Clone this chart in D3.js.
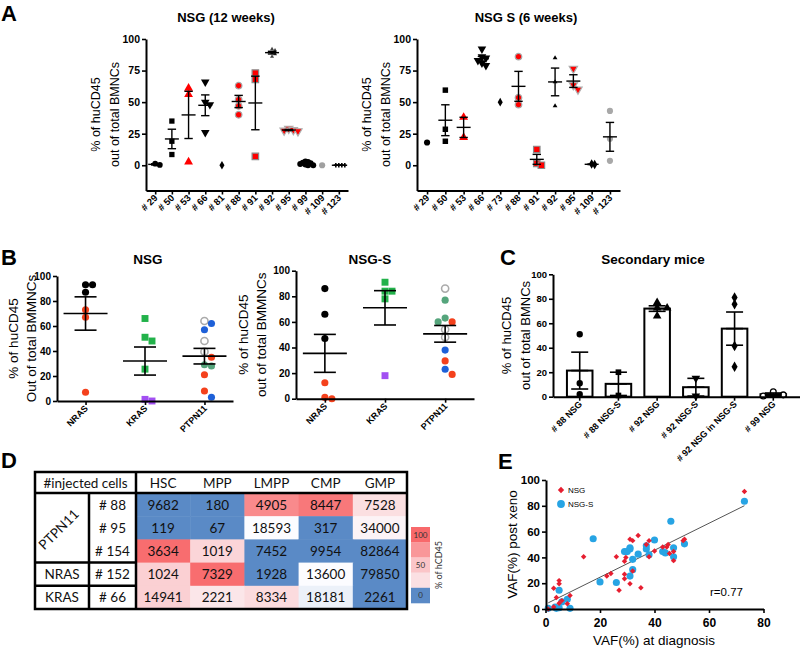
<!DOCTYPE html>
<html><head><meta charset="utf-8">
<script src="https://cdn.jsdelivr.net/npm/d3@7"></script>
<style>
body{margin:0;background:#fff;}
svg{display:block;font-family:"Liberation Sans",Arial,sans-serif;}
</style></head><body>
<svg id="fig" width="800" height="650"></svg>
<script>
// ================= DATA =================
// Panel A – NSG (12 weeks)
const aNsgCats = ["# 29","# 50","# 53","# 66","# 81","# 88","# 91","# 92","# 95","# 99","# 109","# 123"];
const aNsgValues = [
  [1.2, 0.2],
  [35, 19, 8.5],
  [61, 56, 2.6],
  [66, 50, 48, 26],
  [0],
  [63, 52, 47, 40],
  [73, 68, 7],
  [92, 91, 89, 88, 86],
  [29, 28, 27.5, 27],
  [3, 2.5, 2, 1.5, 1, 0.5, 0, 0],
  [0],
  [0, 0, 0, 0]
];
// Panel A – NSG S (6 weeks)
const aNsgsCats = ["# 29","# 50","# 53","# 66","# 73","# 88","# 91","# 92","# 95","# 109","# 123"];
const aNsgsValues = [
  [18],
  [59.5, 28.5, 19],
  [38, 22],
  [92, 86, 85, 83, 81, 79],
  [50],
  [86, 53.5, 48],
  [12.5, 1.5, 0],
  [85, 66, 47],
  [76.5, 63.5, 60],
  [1, 0.5],
  [43, 21, 3.5]
];
const aYTicks = [0, 25, 50, 75, 100];

// Panel B
const bCats = ["NRAS", "KRAS", "PTPN11"];
const bNsgValues = [
  [93, 93, 87, 73, 67, 7],
  [66, 51, 48, 25.5, 0, 1.3],
  [64, 62, 57, 48, 39.5, 35, 29, 28, 21, 8, 3]
];
const bNsgGroups = [
  ["k","k","k","r","r","r"],
  ["g","g","g","g","p","p"],
  ["o","b","b","o","o","r","t","t","r","r","b"]
];
const bNsgsValues = [
  [86, 66, 47, 12.5, 0, 1],
  [91, 84, 84, 78, 18],
  [86, 77, 63, 60, 60, 54, 48, 38, 29.5, 23, 19]
];
const bNsgsGroups = [
  ["k","k","k","r","r","r"],
  ["g","g","g","g","p"],
  ["o","t","t","r","t","o","o","b","r","b","r"]
];
const bYTicks = [0, 20, 40, 60, 80, 100];

// Panel C – Secondary mice
const cCats = ["# 88 NSG","# 88 NSG-S","# 92 NSG","# 92 NSG-S","# 92 NSG in NSG-S","# 99 NSG"];
const cValues = [
  [51, 11, 2],
  [20, 1],
  [77, 72.5, 72.5, 66],
  [15, 0.5],
  [81, 75.5, 41.5, 24.5],
  [0.5, 4, 1.5]
];
const cYTicks = [0, 20, 40, 60, 80, 100];

// Panel D – table / heatmap
const dCols = ["HSC","MPP","LMPP","CMP","GMP"];
const dRowIds = ["# 88","# 95","# 154","# 152","# 66"];
const dGenes = ["PTPN11","NRAS","KRAS"];
const dGeneSpan = [3, 1, 1];
const dCounts = [
  [9682, 180, 4905, 8447, 7528],
  [119, 67, 18593, 317, 34000],
  [3634, 1019, 7452, 9954, 82864],
  [1024, 7329, 1928, 13600, 79850],
  [14941, 2221, 8334, 18181, 2261]
];
const dPct = [
  [0, 0, 82, 92, 36],
  [0, 0, 20, 0, 25],
  [98, 41, 0, 0, 0],
  [44, 98, 0, 20, 0],
  [44, 32, 38, 18, 0]
];
const dLegendSteps = [100, 75, 50, 35, 0];
const dLegendLabels = ["100", "", "50", "", "0"];

// Panel E – VAF scatter
const eNsg = [[73,91],[51,54],[50.5,53],[38,53],[34,57],[31,54],[32,53],[37,50],[26,40.5],[29.5,40],[29,37],
  [38,40.5],[40,45],[43,48],[44.5,48],[45,50],[45.5,43],[47,44.5],[47,37.5],[14,40.5],[22.5,25.5],[24,27.5],
  [29,27],[29,23.5],[31,19.5],[27,14.5],[35,16.5],[32,29.5],[3,16],[5,22],[5,19.5],[4,9],[6,6.5],[9,10.5],
  [8,4],[3,1.5],[5,4.5],[1,0]];
const eNsgs = [[73,83.5],[46,68],[17.5,54.5],[40,53.5],[31,47.5],[31,46.5],[37,49],[37,46.5],[29,44.5],[30,44.5],
  [32,38.5],[34,42.5],[38,42],[43,44.5],[44,43.5],[47,47.5],[47,40.5],[51,50.5],[32,30.5],[31,25.5],[20,21],
  [26,20.5],[5,14.5],[8,7.5],[6,5.5],[1,0.5],[3.5,1.5],[5,1],[9,0.5],[4,0.5]];
const eXTicks = [0, 20, 40, 60, 80];
const eYTicks = [0, 20, 40, 60, 80, 100];
const eCorr = "r=0.77";

// ================= STYLES =================
const FONT = "'Liberation Sans', Arial, sans-serif";
const aNsgStyle = {
  sym:  ["circle","square","triangle","triangleDown","diamond","circle","square","triangle","triangleDown","circle","circle","cross"],
  fill: ["#000","#000","#ff0000","#000","#000","#ff0000","#ff0000","#444","#ff0000","#000","#a0a0a0","#000"],
  stroke:["none","none","none","none","none","#a8a8a8","#8c8c8c","none","#b0b0b0","none","none","none"],
  size: [26,28,34,32,22,34,42,7,30,28,30,12],
  gap:  [4.6,4.6,4.6,4.6,4.6,4.6,4.6,3,4.6,2.6,4.6,3]
};
const aNsgsStyle = {
  sym:  ["circle","square","triangle","triangleDown","diamond","circle","square","triangle","triangleDown","diamond","circle"],
  fill: ["#000","#000","#ff0000","#000","#000","#ff0000","#ff0000","#000","#ff0000","#000","#a8a8a8"],
  stroke:["none","none","none","none","none","#a8a8a8","#8c8c8c","none","#b0b0b0","none","none"],
  size: [30,30,34,32,22,34,42,10,30,26,30],
  gap:  [4.6,4.6,4.6,4,4.6,4.6,4.6,4.6,4.6,3,4.6]
};
const bColor = {k:"#000", r:"#f4411c", g:"#22b24a", p:"#a24ff2", b:"#1e60d8", t:"#55a57c", o:"#fff"};
const cSym = ["circle","square","triangle","triangleDown","diamond","open"];

// ================= HELPERS =================
const svg = d3.select("#fig");
const symTypes = {circle:d3.symbolCircle, open:d3.symbolCircle, square:d3.symbolSquare, triangle:d3.symbolTriangle,
  triangleDown:d3.symbolTriangle, diamond:d3.symbolDiamond, cross:d3.symbolCross};

function styleAxis(ax, fs) {
  ax.select(".domain").attr("stroke", "#000").attr("stroke-width", 2);
  ax.selectAll(".tick line").attr("stroke", "#000").attr("stroke-width", 1.6);
  ax.selectAll(".tick text").attr("fill", "#000").attr("font-weight", "bold")
    .attr("font-size", fs).attr("font-family", FONT);
}
function yAxis(g, y, ticks, x, fs, ts, tp) {
  const ax = g.append("g").attr("transform", `translate(${x},0)`)
    .call(d3.axisLeft(y).tickValues(ticks).tickSize(ts || 4).tickSizeOuter(0).tickPadding(tp || 2));
  styleAxis(ax, fs);
}
function xAxisCat(g, x, yPos) {
  const ax = g.append("g").attr("transform", `translate(0,${yPos})`)
    .call(d3.axisBottom(x).tickSize(4).tickSizeOuter(0).tickFormat(""));
  styleAxis(ax, 10);
}
function rotLabels(g, x, cats, yPos, fs, dx, dy) {
  const cx = d => x(d) + (x.bandwidth ? x.bandwidth() / 2 : 0);
  g.selectAll(null).data(cats).join("text")
    .attr("transform", d => `translate(${cx(d) + dx},${yPos + dy}) rotate(-45)`)
    .attr("text-anchor", "end").attr("font-weight", "bold").attr("font-size", fs)
    .attr("font-family", FONT).attr("fill", "#000").text(d => d);
}
function textAt(g, x, y, str, o) {
  o = o || {};
  const t = g.append("text").attr("x", x).attr("y", y).text(str)
    .attr("font-size", o.fs || 12).attr("font-family", o.ff || FONT)
    .attr("font-weight", o.fw || "normal").attr("text-anchor", o.anchor || "middle")
    .attr("fill", o.fill || "#000");
  if (o.rot) t.attr("transform", `rotate(${o.rot},${x},${y})`);
  return t;
}
function swarm(values, y, diam, step) {
  const order = values.map((v, i) => i).sort((a, b) => values[b] - values[a]);
  const placed = [], off = new Array(values.length).fill(0);
  order.forEach(i => {
    const py = y(values[i]);
    for (let k = 0; k < 40; k++) {
      const o = k === 0 ? 0 : (k % 2 ? 1 : -1) * Math.ceil(k / 2) * step;
      if (placed.every(p => Math.hypot(p.x - o, p.y - py) >= diam)) { off[i] = o; placed.push({x: o, y: py}); break; }
    }
  });
  return off;
}
function drawPoints(g, cx, y, vals, st, diam, step) {
  const offs = swarm(vals, y, diam, step);
  vals.forEach((v, i) => {
    const s = st(i);
    g.append("path").attr("d", d3.symbol().type(symTypes[s.sym]).size(s.size)())
      .attr("transform", `translate(${cx + offs[i]},${y(v)})${s.sym === "triangleDown" ? " rotate(180)" : ""}`)
      .attr("fill", s.fill).attr("stroke", s.stroke || "none").attr("stroke-width", s.sw || 1);
  });
}
function drawStats(g, cx, y, vals, mh, ch, sw) {
  const n = vals.length;
  if (n < 2) return;
  const m = d3.mean(vals), s = d3.deviation(vals) / Math.sqrt(n);
  const gg = g.append("g").attr("stroke", "#000").attr("stroke-width", sw || 1.5);
  gg.append("line").attr("x1", cx - mh).attr("x2", cx + mh).attr("y1", y(m)).attr("y2", y(m));
  gg.append("line").attr("x1", cx).attr("x2", cx).attr("y1", y(m - s)).attr("y2", y(m + s));
  [m - s, m + s].forEach(v => gg.append("line").attr("x1", cx - ch).attr("x2", cx + ch).attr("y1", y(v)).attr("y2", y(v)));
}
function panelLetter(x, y, L) { textAt(svg, x, y, L, {fs: 22, fw: "bold", anchor: "start"}); }

// ================= PANEL A =================
function panelA(cats, vals, style, x0, x1, title, tx) {
  const g = svg.append("g");
  const y = d3.scaleLinear().domain([-20, 100]).range([190.5, 39]);
  const x = d3.scalePoint().domain(cats).range([x0, x1]).padding(0.55);
  cats.forEach((c, i) => {
    drawPoints(g, x(c), y, vals[i], j => ({sym: style.sym[i], fill: style.fill[i], stroke: style.stroke[i], size: style.size[i], sw: 1.2}),
      style.gap[i], style.gap[i]);
  });
  cats.forEach((c, i) => drawStats(g, x(c), y, vals[i], 7, 4.2, 1.4));
  yAxis(g, y, aYTicks, x0, 10.5, 4, 2);
  xAxisCat(g, x, 190.5);
  rotLabels(g, x, cats, 190.5, 9.5, 3, 8);
  textAt(g, tx, 22, title, {fs: 13, fw: "bold"});
  textAt(g, x0 - 46, 114.5, "% of huCD45", {fs: 12.5, rot: -90});
  textAt(g, x0 - 27, 114.5, "out of total BMNCs", {fs: 12.5, rot: -90});
}
panelA(aNsgCats, aNsgValues, aNsgStyle, 146, 348, "NSG (12 weeks)", 226);
panelA(aNsgsCats, aNsgsValues, aNsgsStyle, 417, 620, "NSG S (6 weeks)", 526);
panelLetter(1, 21, "A");

// ================= PANEL B =================
function panelB(vals, groups, x0, x1, yb, yt, title, tx, lab2, l1, l2, mh, ch) {
  const g = svg.append("g");
  const y = d3.scaleLinear().domain([0, 100]).range([yb, yt]);
  const x = d3.scalePoint().domain(bCats).range([x0, x1]).padding(0.48);
  bCats.forEach((c, i) => {
    drawPoints(g, x(c), y, vals[i], j => {
      const k = groups[i][j];
      return {sym: c === "KRAS" ? "square" : "circle", fill: bColor[k],
        stroke: k === "o" ? "#ababab" : "none", size: c === "KRAS" ? 48 : 40, sw: 1.6};
    }, 6.5, 7);
  });
  bCats.forEach((c, i) => drawStats(g, x(c), y, vals[i], mh, ch, 1.6));
  yAxis(g, y, bYTicks, x0, 10, 4, 2);
  xAxisCat(g, x, yb);
  rotLabels(g, x, bCats, yb, 9, 3, 8);
  textAt(g, tx, 264, title, {fs: 13.5, fw: "bold"});
  const yc = (yb + yt) / 2;
  textAt(g, l1, yc, "% of huCD45", {fs: 13.5, rot: -90});
  textAt(g, l2, yc, lab2, {fs: 13.5, rot: -90});
}
panelB(bNsgValues, bNsgGroups, 57, 233, 401, 276, "NSG", 148, "Out of total BMMNCs", 18, 36, 22, 11);
panelB(bNsgsValues, bNsgsGroups, 296, 474, 398.7, 270.7, "NSG-S", 370, "out of total BMMNCs", 248, 266, 22, 11);
panelLetter(1, 265, "B");

// ================= PANEL C =================
(function () {
  const g = svg.append("g");
  const y = d3.scaleLinear().domain([0, 100]).range([396.7, 274.3]);
  const x = d3.scaleBand().domain(cCats).range([553, 800]).paddingInner(0.34).paddingOuter(0.36);
  const bw = x.bandwidth();
  cCats.forEach((c, i) => {
    const m = d3.mean(cValues[i]);
    g.append("rect").attr("x", x(c)).attr("y", y(m)).attr("width", bw).attr("height", y(0) - y(m))
      .attr("fill", "#fff").attr("stroke", "#000").attr("stroke-width", 2);
  });
  cCats.forEach((c, i) => {
    const s = cSym[i];
    drawPoints(g, x(c) + bw / 2, y, cValues[i], j => ({sym: s, fill: s === "open" ? "#fff" : "#000",
      stroke: s === "open" ? "#000" : "none", size: s === "open" ? 26 : 32, sw: 1.3}), 5.5, 10);
  });
  cCats.forEach((c, i) => drawStats(g, x(c) + bw / 2, y, cValues[i], 8.5, 8.5, 1.6));
  yAxis(g, y, cYTicks, 553, 9.5, 4, 2);
  const ax = g.append("g").attr("transform", "translate(0,396.7)")
    .call(d3.axisBottom(x).tickSize(4).tickSizeOuter(0).tickFormat(""));
  styleAxis(ax, 9);
  rotLabels(g, x, cCats, 396.7, 9, 3, 8);
  textAt(g, 653, 264, "Secondary mice", {fs: 13.5, fw: "bold"});
  textAt(g, 511, 335.5, "% of huCD45", {fs: 13, rot: -90});
  textAt(g, 530, 335.5, "out of total BMNCs", {fs: 13, rot: -90});
})();
panelLetter(500, 265, "C");

// ================= PANEL D =================
(function () {
  const g = svg.append("g");
  const TF = "Lato, 'Open Sans', sans-serif";
  const X0 = 35, X1 = 89, X2 = 136, X3 = 407, Y0 = 472, Y1 = 493, Y2 = 609;
  const x = d3.scaleBand().domain(dCols).range([X2, X3]);
  const y = d3.scaleBand().domain(dRowIds).range([Y1, Y2]);
  const col = d3.scaleLinear().domain([0, 20, 100]).range(["#5a8ac6", "#fcfcff", "#f8696b"]);
  dRowIds.forEach((r, i) => dCols.forEach((c, j) => {
    g.append("rect").attr("x", x(c)).attr("y", y(r)).attr("width", x.bandwidth() + 0.5)
      .attr("height", y.bandwidth() + 0.5).attr("fill", col(dPct[i][j]));
  }));
  dRowIds.forEach((r, i) => dCols.forEach((c, j) => {
    textAt(g, x(c) + x.bandwidth() / 2, y(r) + y.bandwidth() / 2 + 5, dCounts[i][j], {fs: 13.5, ff: TF, fill: "#111"});
  }));
  dCols.forEach(c => textAt(g, x(c) + x.bandwidth() / 2, 487.5, c, {fs: 13.5, ff: TF, fill: "#111"}));
  textAt(g, (X0 + X2) / 2, 487.5, "#injected cells", {fs: 13.5, ff: TF, fill: "#111"});
  dRowIds.forEach(r => textAt(g, (X1 + X2) / 2, y(r) + y.bandwidth() / 2 + 5, r, {fs: 13.5, ff: TF, fill: "#111"}));
  let ri = 0;
  const sepYs = [];
  dGenes.forEach((gn, k) => {
    const top = y(dRowIds[ri]), bot = top + dGeneSpan[k] * y.bandwidth();
    const cy = (top + bot) / 2;
    if (dGeneSpan[k] > 1) textAt(g, (X0 + X1) / 2, cy + 5, gn, {fs: 13.5, ff: TF, fill: "#111", rot: -45});
    else textAt(g, (X0 + X1) / 2, cy + 5, gn, {fs: 13.5, ff: TF, fill: "#111"});
    if (k > 0) sepYs.push(top);
    ri += dGeneSpan[k];
  });
  const L = g.append("g").attr("stroke", "#000").attr("stroke-width", 2.5).attr("fill", "none");
  L.append("rect").attr("x", X0).attr("y", Y0).attr("width", X3 - X0).attr("height", Y2 - Y0);
  L.append("line").attr("x1", X0).attr("x2", X3).attr("y1", Y1).attr("y2", Y1);
  L.append("line").attr("x1", X2).attr("x2", X2).attr("y1", Y0).attr("y2", Y2);
  L.append("line").attr("x1", X1).attr("x2", X1).attr("y1", Y1).attr("y2", Y2);
  sepYs.forEach(sy => L.append("line").attr("x1", X0).attr("x2", X2).attr("y1", sy).attr("y2", sy));
  // legend
  const lh = 15.2, lx = 411, ly = 527;
  dLegendSteps.forEach((v, i) => {
    g.append("rect").attr("x", lx).attr("y", ly + i * lh).attr("width", 19).attr("height", lh + 0.3).attr("fill", col(v));
    if (dLegendLabels[i]) textAt(g, lx + 9.5, ly + i * lh + lh / 2 + 3, dLegendLabels[i], {fs: 8, ff: TF, fill: "#333"});
  });
  textAt(g, 442, 565, "% of hCD45", {fs: 9, ff: TF, fill: "#333", rot: -90});
})();
panelLetter(1, 468, "D");

// ================= PANEL E =================
(function () {
  const g = svg.append("g");
  const x = d3.scaleLinear().domain([0, 80]).range([545.5, 763.5]);
  const y = d3.scaleLinear().domain([0, 100]).range([609, 480]);
  const all = eNsg.concat(eNsgs);
  const mx = d3.mean(all, d => d[0]), my = d3.mean(all, d => d[1]);
  const slope = d3.sum(all, d => (d[0] - mx) * (d[1] - my)) / d3.sum(all, d => (d[0] - mx) ** 2);
  const icpt = my - slope * mx;
  const ext = d3.extent(all, d => d[0]);
  const rhomb = d3.symbol().type(d3.symbolSquare);
  g.append("line").attr("x1", x(ext[0])).attr("y1", y(slope * ext[0] + icpt))
    .attr("x2", x(ext[1])).attr("y2", y(slope * ext[1] + icpt)).attr("stroke", "#555").attr("stroke-width", 1);
  g.selectAll(null).data(eNsgs).join("path").attr("d", d3.symbol().type(d3.symbolCircle).size(40)())
    .attr("transform", d => `translate(${x(d[0])},${y(d[1])})`).attr("fill", "#27a4e4");
  g.selectAll(null).data(eNsg).join("path").attr("d", rhomb.size(15)())
    .attr("transform", d => `translate(${x(d[0])},${y(d[1])}) rotate(45)`).attr("fill", "#e61e30");
  yAxis(g, y, eYTicks, 546, 11.5, 4, 2);
  const ax = g.append("g").attr("transform", "translate(0,609)")
    .call(d3.axisBottom(x).tickValues(eXTicks).tickSize(4).tickSizeOuter(0).tickPadding(5));
  styleAxis(ax, 12);
  textAt(g, 654, 645, "VAF(%) at diagnosis", {fs: 13.5});
  textAt(g, 517, 544.5, "VAF(%) post xeno", {fs: 13.5, rot: -90});
  g.append("path").attr("d", rhomb.size(20)()).attr("transform", "translate(561,490) rotate(45)").attr("fill", "#e61e30");
  g.append("path").attr("d", d3.symbol().type(d3.symbolCircle).size(48)()).attr("transform", "translate(561,504)").attr("fill", "#27a4e4");
  textAt(g, 568, 493, "NSG", {fs: 8, anchor: "start"});
  textAt(g, 568, 507, "NSG-S", {fs: 8, anchor: "start"});
  textAt(g, 710, 596, eCorr, {fs: 11.5, anchor: "start"});
})();
panelLetter(498, 469, "E");
</script></body></html>
